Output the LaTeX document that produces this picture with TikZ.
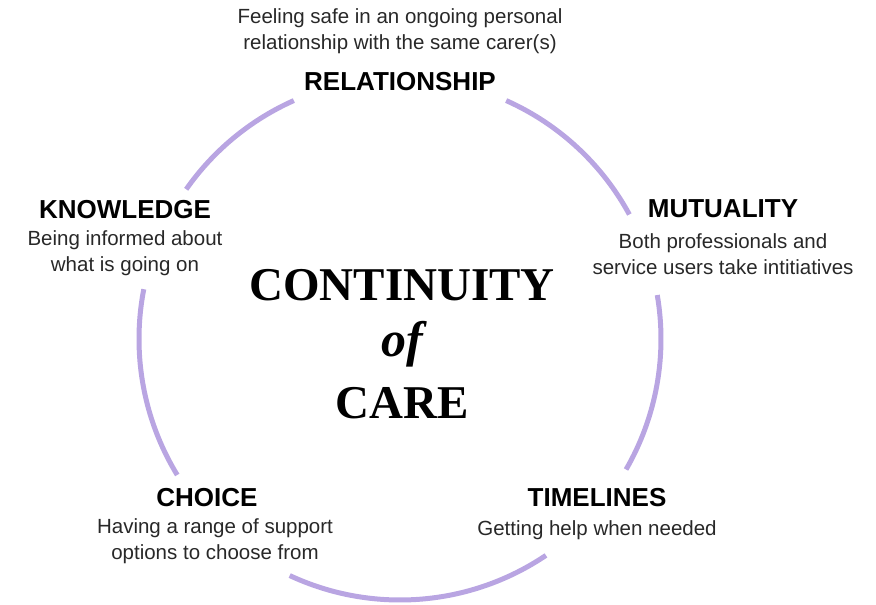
\documentclass[tikz,border=0pt]{standalone}
\usepackage{fontspec}
\setmainfont{Liberation Sans}
\newfontfamily\titlefont{Liberation Serif}
\usetikzlibrary{positioning}
\definecolor{ringcol}{RGB}{185,165,226}
\definecolor{bodycol}{RGB}{40,40,40}

\begin{document}
\begin{tikzpicture}[x=1pt,y=1pt,
    ring/.style={draw=ringcol, line width=5pt},
    head/.style={font=\fontsize{26}{28}\selectfont\bfseries, text=black, inner sep=0pt},
    desc/.style={font=\fontsize{20.5}{25.5}\selectfont, text=bodycol, align=center, inner sep=0pt},
    title/.style={font=\titlefont\fontsize{47}{50}\selectfont\bfseries, text=black, inner sep=0pt}]
        \useasboundingbox (0,0) rectangle (876,605);
        \coordinate (c) at (400,266);

        %ring, broken at the labels
        \draw[ring] ([shift={(114:261)}]c) arc (114:145:261);
        \draw[ring] ([shift={(28.5:261)}]c) arc (28.5:66:261);
        \draw[ring] ([shift={(-30:261)}]c) arc (-30:9.7:261);
        \draw[ring] ([shift={(-115:261)}]c) arc (-115:-56:261);
        \draw[ring] ([shift={(169:261)}]c) arc (169:211.4:261);

        %labels
        \node[desc] (relD) at (400,574) {Feeling safe in an ongoing personal\\relationship with the same carer(s)};
        \node[head] (rel) at (400,523) {RELATIONSHIP};

        \node[head] (know) at (125,395) {KNOWLEDGE};
        \node[desc] (knowD) at (125,352) {Being informed about\\what is going on};

        \node[head] (mut) at (723,396) {MUTUALITY};
        \node[desc] (mutD) at (723,351) {Both professionals and\\service users take intitiatives};

        \node[head] (cho) at (207,107) {CHOICE};
        \node[desc] (choD) at (215,64) {Having a range of support\\options to choose from};

        \node[head] (time) at (597,107) {TIMELINES};
        \node[desc] (timeD) at (597,75) {Getting help when needed};

        %centre title
        \node[title] (cont) at (402,320) {CONTINUITY};
        \node[title, font=\titlefont\fontsize{50}{50}\selectfont\bfseries\itshape] (of) at (402,261) {of};
        \node[title] (care) at (402,202) {CARE};
    \end{tikzpicture}
\end{document}
